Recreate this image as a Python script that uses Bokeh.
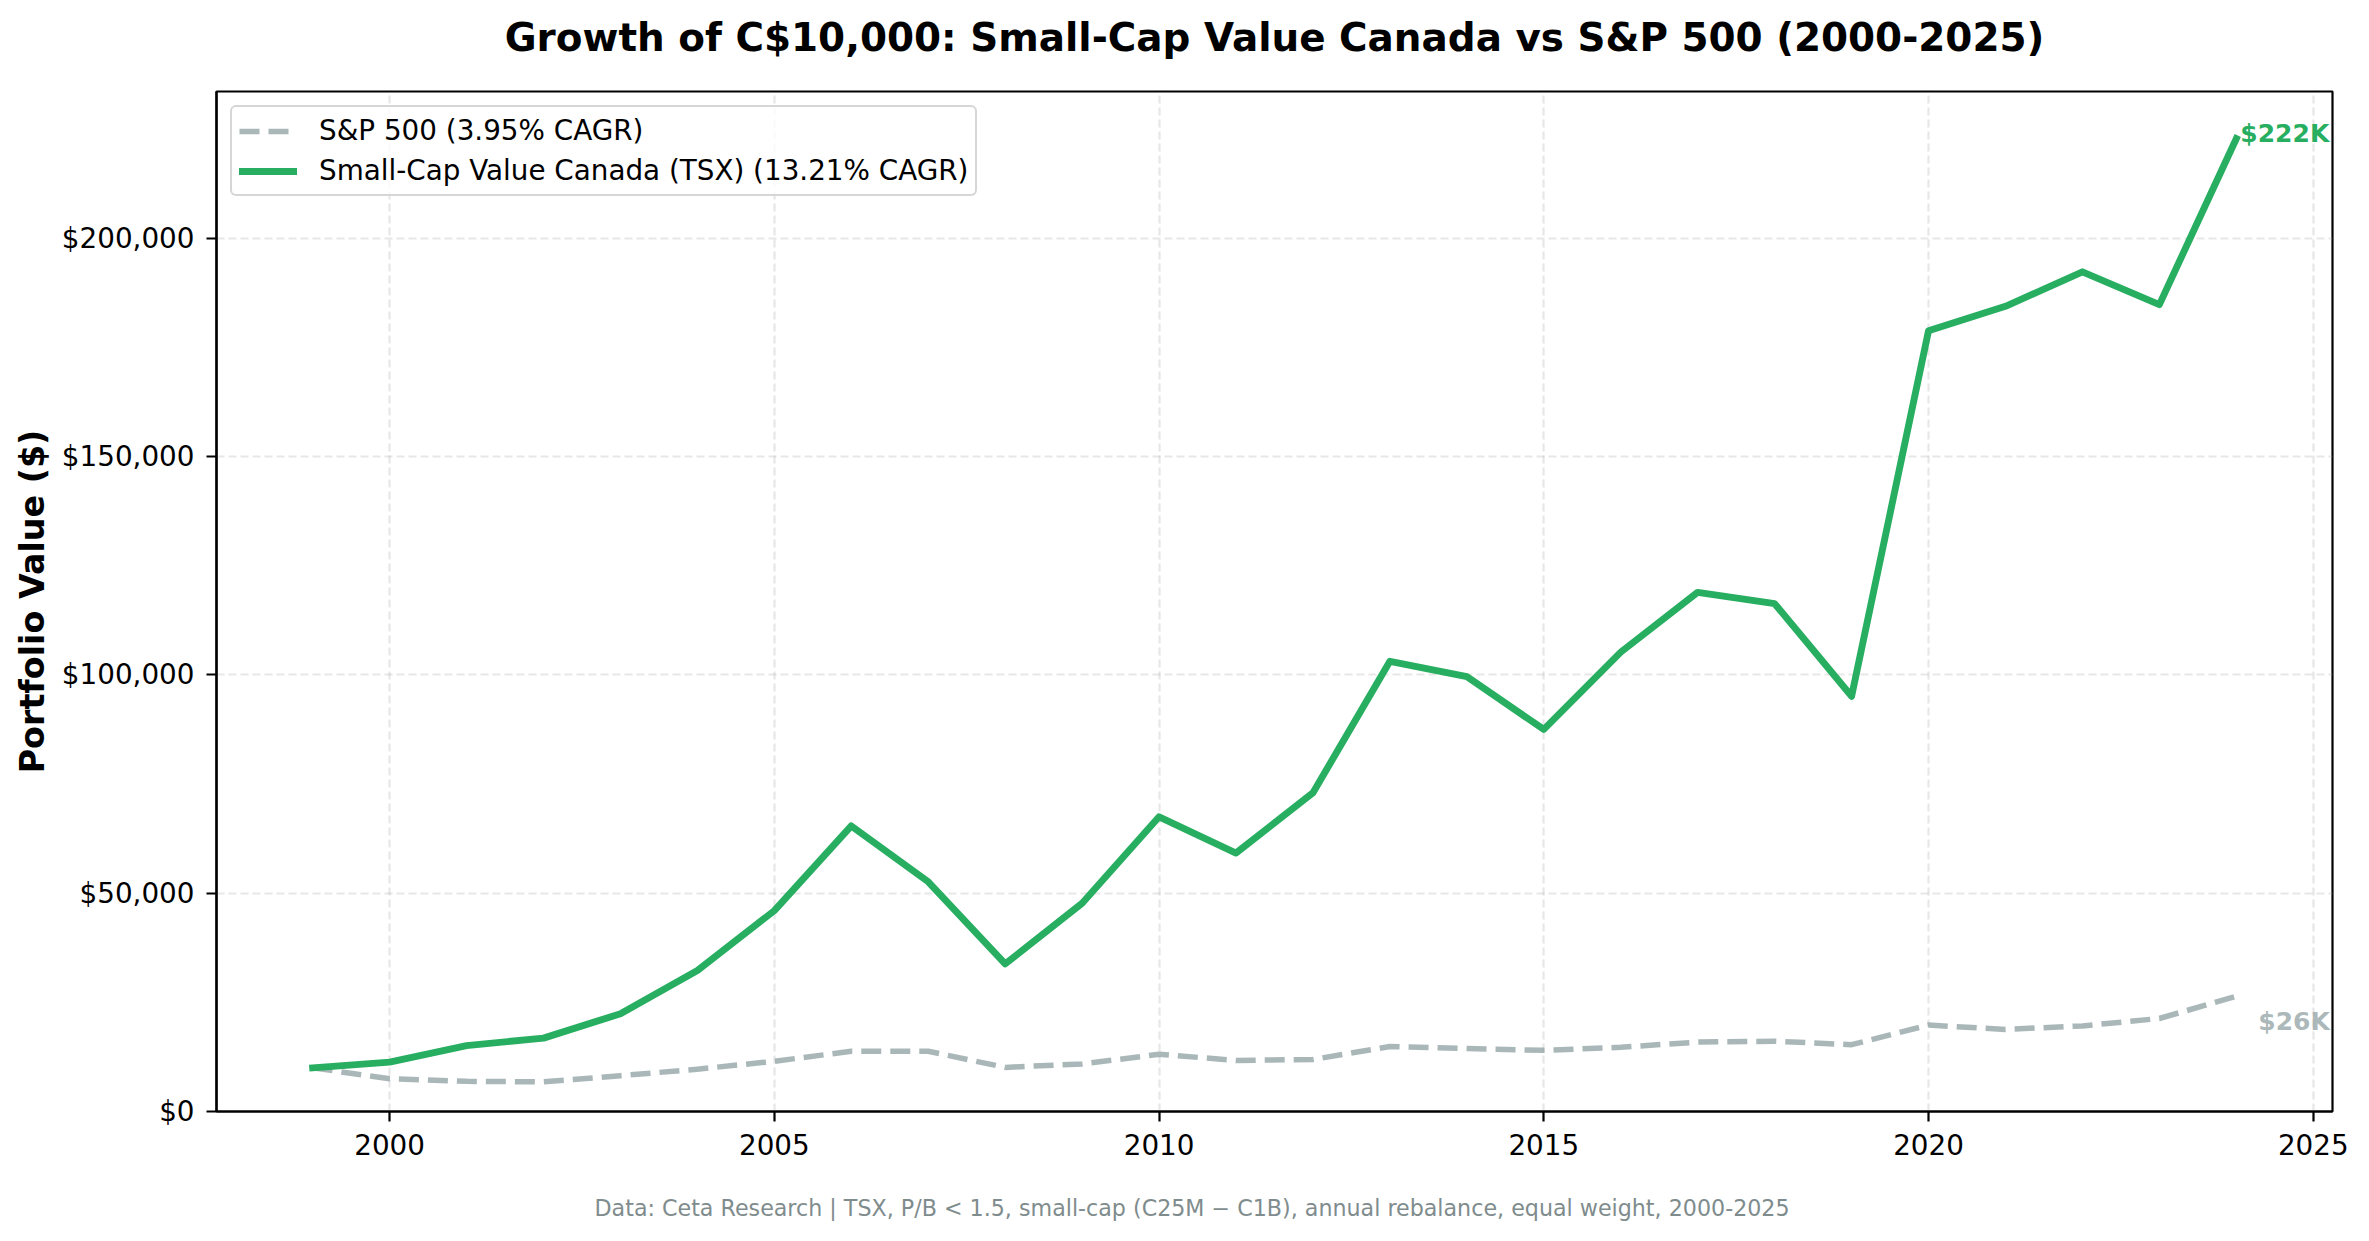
from bokeh.plotting import figure
from bokeh.models import (FixedTicker, NumeralTickFormatter, Range1d, Label,
                          Legend, LegendItem, Title)
from bokeh.embed import file_html
from bokeh.resources import INLINE

# ---------------- data ----------------
years = list(range(1999, 2025))
tsx_value = [10000, 11300, 15100, 16800, 22400, 32300, 46000, 65400, 52600, 33800,
             47700, 67500, 59200, 73000, 103100, 99600, 87500, 105200, 118900, 116300,
             95100, 178800, 184400, 192300, 184800, 222800]
sp500_value = [10000, 7500, 6900, 6800, 8200, 9700, 11500, 13800, 13800, 10100,
               10900, 13100, 11700, 11900, 14900, 14400, 14000, 14700, 15900, 16100,
               15300, 19800, 18800, 19600, 21300, 26400]
series_labels = ["S&P 500 (3.95% CAGR)", "Small-Cap Value Canada (TSX) (13.21% CAGR)"]
end_labels = ["$26K", "$222K"]
x_ticks = [2000, 2005, 2010, 2015, 2020, 2025]
y_ticks = [0, 50000, 100000, 150000, 200000]
title_text = "Growth of C$10,000: Small-Cap Value Canada vs S&P 500 (2000-2025)"
y_label = "Portfolio Value ($)"
footnote = ("Data: Ceta Research | TSX, P/B < 1.5, small-cap (C25M \u2212 C1B), "
            "annual rebalance, equal weight, 2000-2025")

GREEN = "#27ae60"
GRAY = "#95a5a6"
FONT = "DejaVu Sans"

x0, x1 = 1997.75, 2025.25
y0, y1 = 0, 233600

p = figure(width=2353, height=1225, output_backend="svg", toolbar_location=None,
           title=None,
           x_range=Range1d(x0, x1), y_range=Range1d(y0, y1),
           min_border_left=216, min_border_right=21,
           min_border_top=91, min_border_bottom=114)
p.background_fill_color = "white"
p.border_fill_color = "white"
p.outline_line_color = "black"
p.outline_line_width = 2.2
p.outline_line_alpha = 1.0

# title (a small spacer panel sits between the frame and the title)
p.add_layout(Title(text=" ", text_font_size="10px", standoff=7, text_color="white"), "above")
p.add_layout(Title(text=title_text, align="center", vertical_align="top", standoff=20,
                   text_font=FONT, text_font_size="38.9px", text_font_style="bold",
                   text_color="black"), "above")

r_sp = p.line(years, sp500_value, line_color=GRAY, line_alpha=0.8, line_width=5.5,
              line_dash="20 9", line_join="round")
r_tsx = p.line(years, tsx_value, line_color=GREEN, line_width=6.9,
               line_join="round", line_cap="square")

# axes
p.xaxis.ticker = FixedTicker(ticks=x_ticks)
p.yaxis.ticker = FixedTicker(ticks=y_ticks)
p.yaxis.formatter = NumeralTickFormatter(format="$0,0")
for ax in p.axis:
    ax.axis_line_width = 2.2
    ax.axis_line_color = "black"
    ax.major_tick_line_width = 2.2
    ax.major_tick_out = 10
    ax.major_tick_in = 0
    ax.minor_tick_line_color = None
    ax.major_label_text_font = FONT
    ax.major_label_text_font_size = "27.8px"
    ax.major_label_text_color = "black"
p.xaxis.major_label_standoff = 12
p.yaxis.major_label_standoff = 12
p.yaxis.axis_label = y_label
p.yaxis.axis_label_text_font = FONT
p.yaxis.axis_label_text_font_size = "33.3px"
p.yaxis.axis_label_text_font_style = "bold"
p.yaxis.axis_label_text_color = "black"
p.yaxis.axis_label_standoff = 7

# footnote below the x axis (after a spacer panel)
p.add_layout(Title(text=" ", text_font_size="10px", standoff=24, text_color="white"), "below")
p.add_layout(Title(text=footnote, align="left", offset=378, standoff=0,
                   vertical_align="top", text_font=FONT, text_font_size="22.2px",
                   text_font_style="normal", text_color="#7f8c8d"), "below")

# grid
p.grid.grid_line_color = "#b0b0b0"
p.grid.grid_line_alpha = 0.3
p.grid.grid_line_width = 2.2
p.grid.grid_line_dash = "8 4"

# legend
legend = Legend(items=[LegendItem(label=series_labels[0], renderers=[r_sp]),
                       LegendItem(label=series_labels[1], renderers=[r_tsx])],
                location="top_left", margin=14, padding=7, spacing=7,
                label_height=28, glyph_height=28, glyph_width=58, label_standoff=22,
                label_text_font=FONT, label_text_font_size="27.8px",
                label_text_color="black",
                border_line_color="#cccccc", border_line_width=2.5, border_line_alpha=0.8,
                background_fill_color="white", background_fill_alpha=0.8)
try:
    legend.border_radius = 6
except Exception:
    pass
p.add_layout(legend)

# end labels
p.add_layout(Label(x=years[-1], y=tsx_value[-1], text=end_labels[1], x_offset=4, y_offset=5,
                   text_align="left", text_baseline="middle", text_font=FONT,
                   text_font_size="25px", text_font_style="bold", text_color=GREEN))
p.add_layout(Label(x=years[-1], y=sp500_value[-1], text=end_labels[0], x_offset=22, y_offset=-25,
                   text_align="left", text_baseline="middle", text_font=FONT,
                   text_font_size="25px", text_font_style="bold", text_color=GRAY,
                   text_alpha=0.8))

open("out.html", "w").write(file_html(p, INLINE))
